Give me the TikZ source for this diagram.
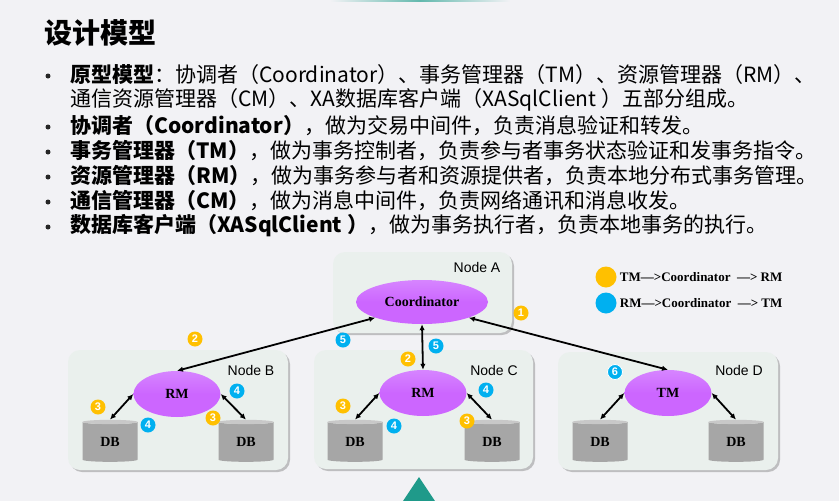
\documentclass[tikz,border=0pt]{standalone}
\usepackage{fontspec}
\setmainfont{Noto Sans CJK SC}
\newfontfamily\serifbold{Liberation Serif}
\newfontfamily\labelfont{Liberation Sans}
\usetikzlibrary{shapes.geometric, arrows.meta, positioning, shadows}
\definecolor{pagebg}{RGB}{242,242,245}
\definecolor{boxbg}{RGB}{234,240,237}
\definecolor{mgrpurple}{RGB}{204,102,255}
\definecolor{dbbody}{RGB}{166,166,166}
\definecolor{dbtop}{RGB}{200,200,200}
\definecolor{ybadge}{RGB}{255,192,0}
\definecolor{bbadge}{RGB}{0,176,240}
\definecolor{tealtri}{RGB}{31,154,138}
\tikzset{
    nodebox/.style={fill=boxbg, rounded corners=12pt, drop shadow={shadow xshift=2pt, shadow yshift=-2pt, fill=black!45, opacity=.5}},
    mgr/.style={ellipse, top color=mgrpurple!80!white, bottom color=mgrpurple, middle color=mgrpurple, inner sep=0pt, font=\serifbold\bfseries\fontsize{14}{14}\selectfont},
    db/.style={cylinder, shape border rotate=90, aspect=0.22, cylinder uses custom fill, cylinder body fill=dbbody, cylinder end fill=dbtop, minimum width=55pt, minimum height=42pt, inner sep=0pt, font=\serifbold\bfseries\fontsize{14}{14}\selectfont},
    arrow/.style={{Latex[length=6pt,width=5.5pt]}-{Latex[length=6pt,width=5.5pt]}, line width=1.8pt},
    ybadge/.style={circle, fill=ybadge, text=white, inner sep=0pt, minimum size=15pt, font=\labelfont\bfseries\fontsize{11}{11}\selectfont},
    bbadge/.style={ybadge, fill=bbadge},
    boxlabel/.style={font=\labelfont\fontsize{14}{14}\selectfont},
    line/.style={anchor=west, inner sep=0pt, font=\fontsize{21}{21}\selectfont},
    bullet/.style={circle, fill=black!85, inner sep=0pt, minimum size=5pt},
    legend/.style={anchor=west, inner sep=0pt, font=\serifbold\bfseries\fontsize{13}{13}\selectfont}
}
\begin{document}
\begin{tikzpicture}[x=1pt, y=-1pt]
        \fill[pagebg] (0,0) rectangle (839,501);
        \useasboundingbox (0,0) rectangle (839,501);
        \shade[left color=pagebg, right color=pagebg, middle color=tealtri!70] (330,0) rectangle (510,1.5);

        \node [anchor=west, inner sep=0pt, font=\bfseries\fontsize{28}{28}\selectfont] (title) at (44,33) {设计模型};

        \foreach \y in {76,127,152,177,202,227}
            \node [bullet] at (48,\y) {};
        \node [line] (l1) at (70,75) {\textbf{原型模型}：协调者（Coordinator）、事务管理器（TM）、资源管理器（RM）、};
        \node [line] (l2) at (70,100) {通信资源管理器（CM）、XA数据库客户端（XASqlClient ）五部分组成。};
        \node [line] (l3) at (70,126) {\textbf{协调者（Coordinator）}，做为交易中间件，负责消息验证和转发。};
        \node [line] (l4) at (70,151) {\textbf{事务管理器（TM）}，做为事务控制者，负责参与者事务状态验证和发事务指令。};
        \node [line] (l5) at (70,176) {\textbf{资源管理器（RM）}，做为事务参与者和资源提供者，负责本地分布式事务管理。};
        \node [line] (l6) at (70,201) {\textbf{通信管理器（CM）}，做为消息中间件，负责网络通讯和消息收发。};
        \node [line] (l7) at (70,226) {\textbf{数据库客户端（XASqlClient ）}，做为事务执行者，负责本地事务的执行。};

        \node [nodebox, minimum width=179pt, minimum height=81pt] (boxA) at (422.5,292.5) {};
        \node [nodebox, minimum width=220pt, minimum height=120pt] (boxB) at (178,410) {};
        \node [nodebox, minimum width=219pt, minimum height=119pt] (boxC) at (423.5,409.5) {};
        \node [nodebox, minimum width=220pt, minimum height=118pt] (boxD) at (668,411) {};
        \node [boxlabel] at (477,267) {Node A};
        \node [boxlabel] at (251,370) {Node B};
        \node [boxlabel] at (494,370) {Node C};
        \node [boxlabel] at (739,370) {Node D};

        \node [mgr, minimum width=132pt, minimum height=44pt] (coord) at (422,302) {Coordinator};
        \node [mgr, minimum width=87pt, minimum height=46pt] (rmB) at (177,394) {RM};
        \node [mgr, minimum width=87pt, minimum height=46pt] (rmC) at (423,393) {RM};
        \node [mgr, minimum width=87pt, minimum height=46pt] (tmD) at (668,393) {TM};

        \node [db] (dbB1) at (110,442) {DB};
        \node [db] (dbB2) at (246,442) {DB};
        \node [db] (dbC1) at (355,442) {DB};
        \node [db] (dbC2) at (492,442) {DB};
        \node [db] (dbD1) at (600,442) {DB};
        \node [db] (dbD2) at (736,442) {DB};

        \draw [arrow] (coord.south west) -- (rmB.north);
        \draw [arrow] (coord.south) -- (rmC.north);
        \draw [arrow] (coord.south east) -- (tmD.north);
        \draw [arrow] (rmB.west) -- (dbB1.north);
        \draw [arrow] (rmB.east) -- (dbB2.north);
        \draw [arrow] (rmC.west) -- (dbC1.north);
        \draw [arrow] (rmC.east) -- (dbC2.north);
        \draw [arrow] (tmD.west) -- (dbD1.north);
        \draw [arrow] (tmD.east) -- (dbD2.north);

        \node [ybadge] at (521,313) {1};
        \node [ybadge] at (195,339) {2};
        \node [ybadge] at (408,359) {2};
        \node [ybadge] at (98,407) {3};
        \node [ybadge] at (213,418) {3};
        \node [ybadge] at (343,406) {3};
        \node [ybadge] at (467,421) {3};
        \node [bbadge] at (148,425) {4};
        \node [bbadge] at (237,391) {4};
        \node [bbadge] at (394,426) {4};
        \node [bbadge] at (486,390) {4};
        \node [bbadge] at (343,340) {5};
        \node [bbadge] at (436,346) {5};
        \node [bbadge, draw=white, line width=0.8pt] at (615,372) {6};

        \node [circle, fill=ybadge, minimum size=21pt, inner sep=0pt] (ykey) at (606,277) {};
        \node [circle, fill=bbadge, minimum size=21pt, inner sep=0pt] (bkey) at (606,303) {};
        \node [legend, right=3pt of ykey] {TM—>Coordinator\ \ —> RM};
        \node [legend, right=3pt of bkey] {RM—>Coordinator\ \ —> TM};

        \fill[tealtri] (419,477) -- (435,501) -- (403,501) -- cycle;
    \end{tikzpicture}
\end{document}
